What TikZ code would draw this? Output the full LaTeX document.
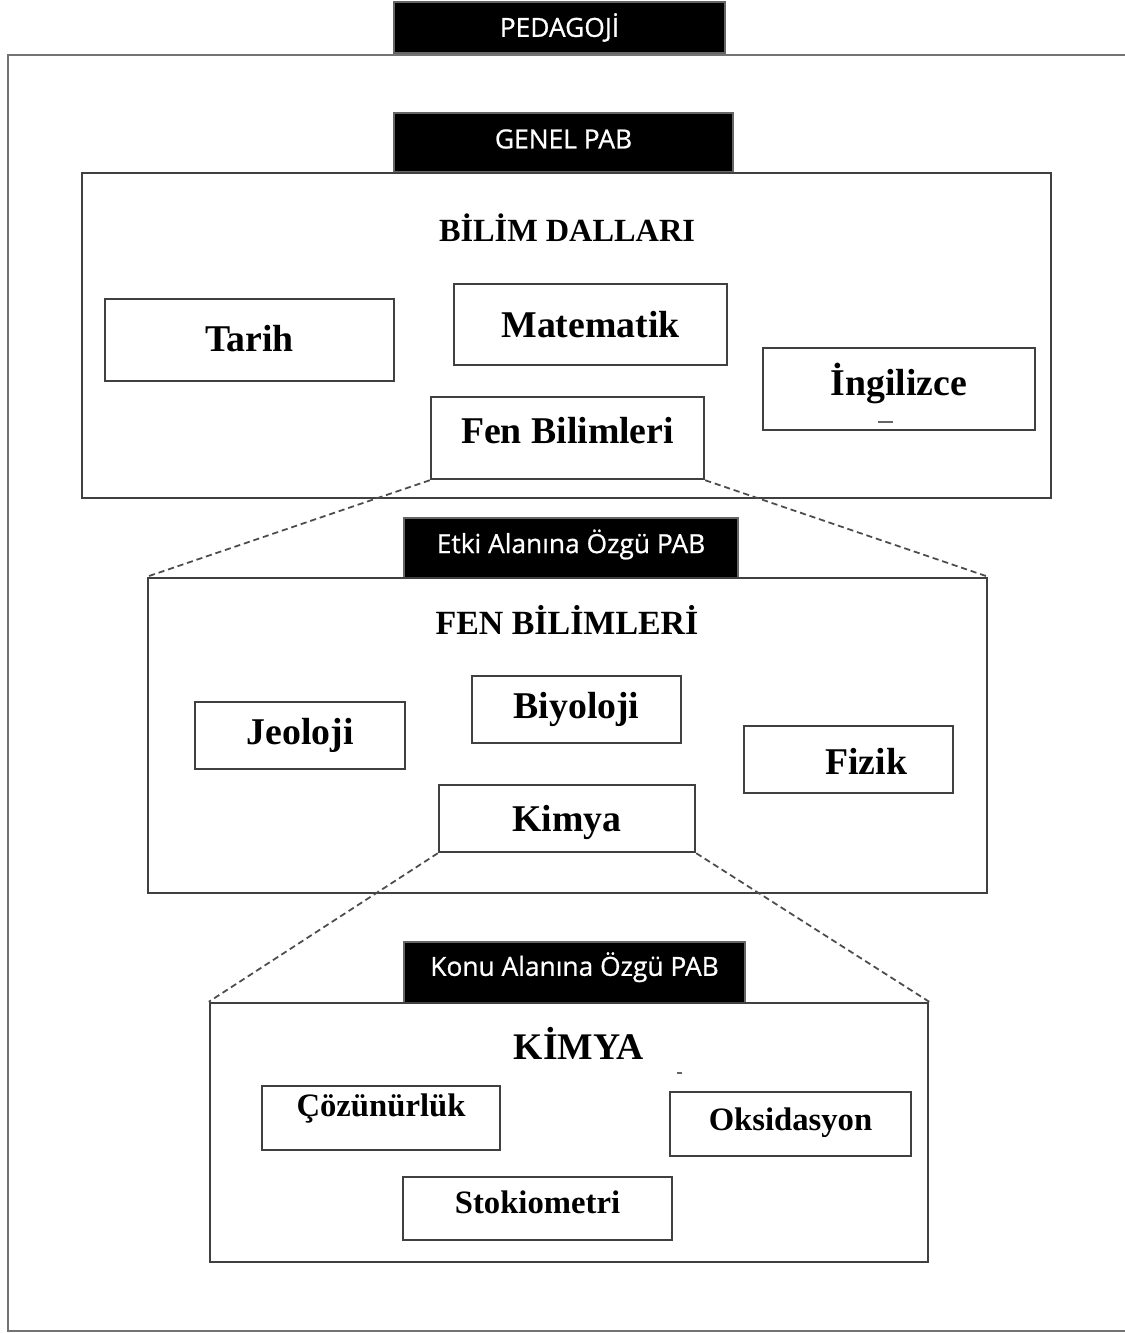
\documentclass[tikz,border=0pt]{standalone}
\usepackage{fontspec}
\setmainfont{Liberation Serif}
\newfontfamily\tagfont[FakeBold=0.8]{Open Sans}
\usetikzlibrary{fit}

\tikzset{
  frame/.style={draw=black!55, line width=1.1pt},
  box/.style={draw=black!75, line width=1.4pt, inner sep=0pt},
  tag/.style={fill=black, draw=black!60, line width=0.6pt, inner sep=0pt,
    text=white, font=\tagfont\fontsize{15}{17}\selectfont},
  big/.style={font=\bfseries\fontsize{21.5}{24}\selectfont},
  small/.style={font=\bfseries\fontsize{18.6}{21}\selectfont},
  head/.style={font=\bfseries\fontsize{18.4}{21}\selectfont},
  zoomline/.style={draw=black!70, line width=1pt, dash pattern=on 3.5pt off 2.2pt},
  speck/.style={draw=black!60, line width=0.8pt},
}

\begin{document}
\begin{tikzpicture}[x=0.02cm, y=-0.02cm]
\useasboundingbox (0,0) rectangle (1125,1333);

% outer frame, open on the right
\draw[frame] (1125,55) -- (8,55) -- (8,1331) -- (1125,1331);
\node[tag, fit={(394,2) (725,53)}, label={[tag, fill=none, draw=none]center:PEDAGOJİ}] (pedagoji) {};

% general PCK: disciplines
\node[tag, fit={(394,113) (733,172)}, label={[tag, fill=none, draw=none, yshift=2pt]center:GENEL PAB}] (genel) {};
\node[box, fit={(82,173) (1051,498)}] (bilim) {};
\node[head] (bilimtitle) at (567,228) {BİLİM DALLARI};
\node[box, fit={(105,299) (394,381)}, label={[big, yshift=1pt]center:Tarih}] (tarih) {};
\node[box, fit={(454,284) (727,365)}, label={[big]center:Matematik}] (matematik) {};
\node[box, fit={(763,348) (1035,430)}, label={[big, yshift=3pt]center:İngilizce}] (ingilizce) {};
\draw[speck] (878,422) -- (893,422);
\node[box, fit={(431,397) (704,479)}, label={[big, yshift=4pt]center:Fen Bilimleri}] (fen) {};

% domain-specific PCK: sciences
\node[tag, fit={(404,518) (738,578)}, label={[tag, fill=none, draw=none, yshift=2pt]center:Etki Alanına Özgü PAB}] (etki) {};
\node[box, fit={(148,578) (987,893)}] (fenbox) {};
\node[font=\bfseries\fontsize{19.3}{22}\selectfont] (fentitle) at (567,620) {FEN BİLİMLERİ};
\node[box, fit={(195,702) (405,769)}, label={[big]center:Jeoloji}] (jeoloji) {};
\node[box, fit={(472,676) (681,743)}, label={[big]center:Biyoloji}] (biyoloji) {};
\node[box, fit={(744,726) (953,793)}, label={[big, xshift=10pt, yshift=-1pt]center:Fizik}] (fizik) {};
\node[box, fit={(439,785) (695,852)}, label={[big, yshift=-2pt]center:Kimya}] (kimya) {};

% topic-specific PCK: chemistry
\node[tag, fit={(404,942) (745,1003)}, label={[tag, fill=none, draw=none, yshift=3pt]center:Konu Alanına Özgü PAB}] (konu) {};
\node[box, fit={(210,1003) (928,1262)}] (kimbox) {};
\node[font=\bfseries\fontsize{21.4}{24}\selectfont] (kimtitle) at (579,1043) {KİMYA};
\draw[speck] (677,1073) -- (682,1073);
\node[box, fit={(262,1086) (500,1150)}, label={[small, yshift=5.5pt]center:Çözünürlük}] (cozunurluk) {};
\node[box, fit={(670,1092) (911,1156)}, label={[small, yshift=1pt]center:Oksidasyon}] (oksidasyon) {};
\node[box, fit={(403,1177) (672,1240)}, label={[small, yshift=3.5pt]center:Stokiometri}] (stokiometri) {};

% zoom-in connectors
\draw[zoomline] (fen.south west) -- (fenbox.north west);
\draw[zoomline] (fen.south east) -- (fenbox.north east);
\draw[zoomline] (kimya.south west) -- (kimbox.north west);
\draw[zoomline] (kimya.south east) -- (kimbox.north east);
\end{tikzpicture}
\end{document}
